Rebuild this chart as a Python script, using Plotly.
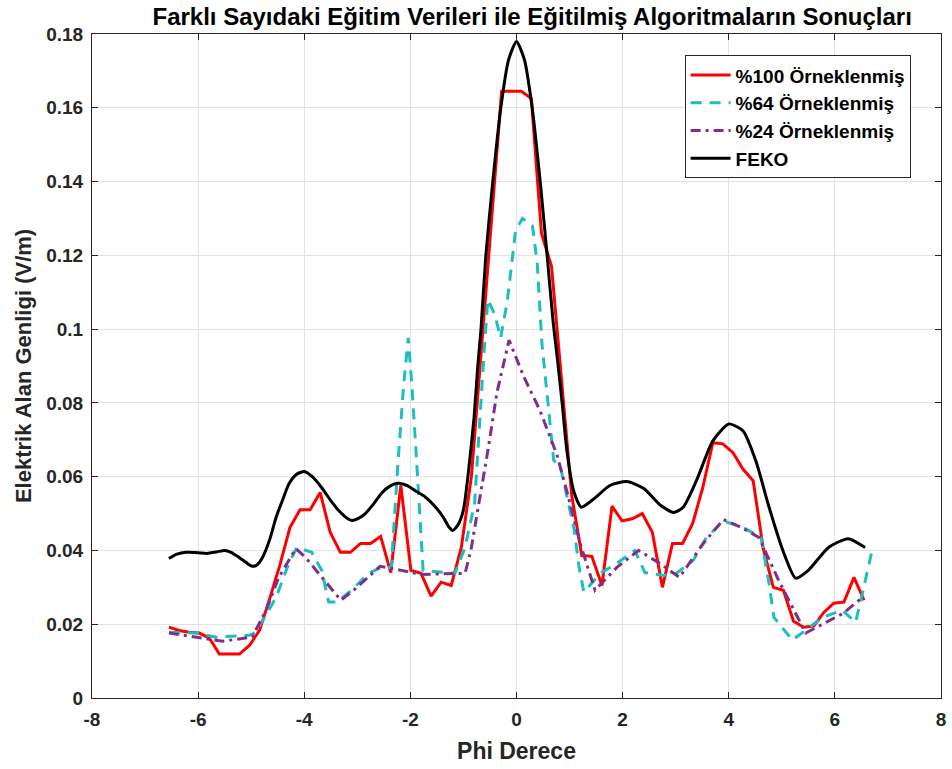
import plotly.graph_objects as go

# ---- data ----
X_100 = [-6.55, -6.36, -6.17, -5.98, -5.79, -5.60, -5.41, -5.22, -5.03, -4.84,
         -4.65, -4.46, -4.27, -4.08, -3.89, -3.70, -3.51, -3.32, -3.13, -2.94,
         -2.75, -2.56, -2.37, -2.18, -1.99, -1.80, -1.61, -1.42, -1.23, -1.04,
         -0.85, -0.66, -0.47, -0.28, -0.09, 0.09, 0.28, 0.47, 0.66, 0.85,
         1.04, 1.23, 1.42, 1.61, 1.80, 1.99, 2.18, 2.37, 2.56, 2.75,
         2.94, 3.13, 3.32, 3.51, 3.70, 3.89, 4.08, 4.27, 4.46, 4.65,
         4.84, 5.03, 5.22, 5.41, 5.60, 5.79, 5.98, 6.17, 6.36, 6.55]
Y_100 = [0.0192, 0.0183, 0.0178, 0.0176, 0.0163, 0.0119, 0.0119, 0.0119, 0.0143, 0.0184,
         0.0270, 0.0360, 0.0462, 0.0510, 0.0510, 0.0557, 0.0449, 0.0395, 0.0395, 0.0419,
         0.0419, 0.0438, 0.0340, 0.0576, 0.0346, 0.0338, 0.0276, 0.0314, 0.0305, 0.0408,
         0.0600, 0.0940, 0.1280, 0.1645, 0.1645, 0.1645, 0.1625, 0.1260, 0.1170, 0.0850,
         0.0550, 0.0386, 0.0384, 0.0305, 0.0520, 0.0480, 0.0486, 0.0500, 0.0449, 0.0300,
         0.0419, 0.0419, 0.0473, 0.0570, 0.0692, 0.0689, 0.0665, 0.0620, 0.0589, 0.0405,
         0.0300, 0.0292, 0.0208, 0.0192, 0.0195, 0.0232, 0.0257, 0.0260, 0.0327, 0.0265]

X_64 = [-6.55, -6.03, -5.66, -5.04, -4.91, -4.53, -4.29, -4.14, -3.86, -3.67,
        -3.54, -3.39, -3.11, -2.79, -2.55, -2.36, -2.23, -2.13, -2.04, -1.97,
        -1.89, -1.84, -1.76, -1.16, -0.97, -0.79, -0.74, -0.61, -0.54, -0.41,
        -0.30, -0.18, -0.08, -0.02, 0.11, 0.30, 0.39, 0.48, 0.60, 0.70,
        0.83, 1.08, 1.18, 1.27, 1.58, 1.89, 2.23, 2.42, 2.77, 3.01,
        3.33, 3.58, 3.90, 4.27, 4.61, 4.76, 4.85, 5.20, 5.45, 5.77,
        6.14, 6.39, 6.52, 6.70]
Y_64 = [0.0178, 0.0176, 0.0165, 0.0170, 0.0178, 0.0273, 0.0365, 0.0408, 0.0395, 0.0346,
        0.0260, 0.0260, 0.0292, 0.0338, 0.0354, 0.0354, 0.0645, 0.0843, 0.0976, 0.0843,
        0.0660, 0.0540, 0.0346, 0.0338, 0.0408, 0.0527, 0.0645, 0.0940, 0.1080, 0.1040,
        0.0976, 0.1070, 0.1190, 0.1265, 0.1300, 0.1280, 0.1180, 0.0960, 0.0790, 0.0645,
        0.0625, 0.0462, 0.0354, 0.0287, 0.0338, 0.0365, 0.0400, 0.0340, 0.0332, 0.0338,
        0.0373, 0.0435, 0.0480, 0.0462, 0.0435, 0.0310, 0.0219, 0.0157, 0.0184, 0.0219,
        0.0238, 0.0205, 0.0284, 0.0400]

X_24 = [-6.55, -6.03, -5.54, -4.98, -4.72, -4.48, -4.16, -3.97, -3.67, -3.31,
        -3.03, -2.79, -2.57, -2.17, -1.80, -0.97, -0.86, -0.54, -0.37, -0.14,
        0.14, 0.44, 0.76, 0.95, 1.20, 1.48, 1.89, 2.30, 2.70, 3.07,
        3.52, 3.90, 4.27, 4.57, 4.94, 5.45, 5.88, 6.16, 6.52]
Y_24 = [0.0176, 0.0165, 0.0154, 0.0165, 0.0238, 0.0327, 0.0405, 0.0380, 0.0327, 0.0265,
        0.0297, 0.0327, 0.0357, 0.0346, 0.0335, 0.0338, 0.0400, 0.0670, 0.0827, 0.0970,
        0.0870, 0.0780, 0.0660, 0.0560, 0.0419, 0.0292, 0.0354, 0.0400, 0.0365, 0.0327,
        0.0419, 0.0484, 0.0460, 0.0435, 0.0319, 0.0176, 0.0210, 0.0230, 0.0273]

X_FEKO = [-6.55, -6.40, -6.22, -6.00, -5.84, -5.65, -5.50, -5.38, -5.28, -5.12,
          -4.98, -4.88, -4.79, -4.65, -4.53, -4.40, -4.29, -4.15, -4.00, -3.85,
          -3.67, -3.50, -3.35, -3.20, -3.10, -2.98, -2.85, -2.70, -2.55, -2.40,
          -2.23, -2.05, -1.91, -1.72, -1.54, -1.38, -1.28, -1.20, -1.10, -1.00,
          -0.90, -0.80, -0.73, -0.67, -0.58, -0.45, -0.30, -0.15, 0.00, 0.15,
          0.30, 0.45, 0.58, 0.69, 0.77, 0.86, 0.95, 1.08, 1.22, 1.46,
          1.76, 2.08, 2.40, 2.70, 2.96, 3.14, 3.39, 3.70, 4.00, 4.27,
          4.51, 4.76, 5.02, 5.26, 5.50, 5.88, 6.25, 6.57]
Y_FEKO = [0.0378, 0.0390, 0.0395, 0.0394, 0.0392, 0.0396, 0.0400, 0.0395, 0.0386, 0.0370,
          0.0357, 0.0362, 0.0380, 0.0430, 0.0490, 0.0540, 0.0580, 0.0606, 0.0614, 0.0600,
          0.0570, 0.0535, 0.0508, 0.0488, 0.0481, 0.0487, 0.0500, 0.0525, 0.0554, 0.0573,
          0.0582, 0.0575, 0.0562, 0.0545, 0.0520, 0.0490, 0.0465, 0.0454, 0.0470, 0.0510,
          0.0620, 0.0760, 0.0900, 0.0998, 0.1195, 0.1395, 0.1595, 0.1730, 0.1780, 0.1730,
          0.1595, 0.1395, 0.1195, 0.1020, 0.0920, 0.0800, 0.0670, 0.0560, 0.0517, 0.0540,
          0.0576, 0.0587, 0.0568, 0.0524, 0.0503, 0.0517, 0.0589, 0.0697, 0.0743, 0.0724,
          0.0643, 0.0517, 0.0400, 0.0325, 0.0346, 0.0408, 0.0432, 0.0408]

SERIES_NAMES = ["%100 Örneklenmiş", "%64 Örneklenmiş", "%24 Örneklenmiş", "FEKO"]

X_TICKS = [-8, -6, -4, -2, 0, 2, 4, 6, 8]
X_TICK_LABELS = ["-8", "-6", "-4", "-2", "0", "2", "4", "6", "8"]
Y_TICKS = [0, 0.02, 0.04, 0.06, 0.08, 0.10, 0.12, 0.14, 0.16, 0.18]
Y_TICK_LABELS = ["0", "0.02", "0.04", "0.06", "0.08", "0.1", "0.12", "0.14", "0.16", "0.18"]

TITLE = "Farklı Sayıdaki Eğitim Verileri ile Eğitilmiş Algoritmaların Sonuçları"
X_TITLE = "Phi Derece"
Y_TITLE = "Elektrik Alan Genligi (V/m)"

FONT = "Liberation Sans, Arial, sans-serif"

fig = go.Figure()
fig.add_trace(go.Scatter(x=X_100, y=Y_100, mode="lines", name=SERIES_NAMES[0],
                         line=dict(color="#FF0000", width=3)))
fig.add_trace(go.Scatter(x=X_64, y=Y_64, mode="lines", name=SERIES_NAMES[1],
                         line=dict(color="#1BBFBF", width=3, dash="11px,8px")))
fig.add_trace(go.Scatter(x=X_24, y=Y_24, mode="lines", name=SERIES_NAMES[2],
                         line=dict(color="#7E2F8E", width=3, dash="10px,5px,3px,5px")))
fig.add_trace(go.Scatter(x=X_FEKO, y=Y_FEKO, mode="lines", name=SERIES_NAMES[3],
                         line=dict(color="#000000", width=3, shape="spline", smoothing=0.6)))

axis_common = dict(
    showgrid=True, gridcolor="#E3E3E3", gridwidth=1,
    showline=True, linecolor="#262626", linewidth=1, mirror="ticks",
    ticks="inside", ticklen=6, tickcolor="#262626",
    zeroline=False, ticklabelstandoff=4, ticklabeloverflow="allow",
    tickfont=dict(family=FONT, size=19, color="#262626", weight="bold"),
)

fig.update_layout(
    width=952, height=769,
    margin=dict(l=92, r=6, t=34, b=71),
    paper_bgcolor="white", plot_bgcolor="white",
    font=dict(family=FONT, color="#262626"),
    title=dict(text="<b>" + TITLE + "</b>", x=0.559, xanchor="center", xref="container",
               y=0.978, yanchor="middle",
               font=dict(family=FONT, size=24, color="#000000")),
    xaxis=dict(range=[-8, 8], tickvals=X_TICKS, ticktext=X_TICK_LABELS,
               title=dict(text="<b>" + X_TITLE + "</b>", standoff=14,
                          font=dict(family=FONT, size=23, color="#262626")),
               **axis_common),
    yaxis=dict(range=[0, 0.18], tickvals=Y_TICKS, ticktext=Y_TICK_LABELS,
               title=dict(text="<b>" + Y_TITLE + "</b>", standoff=8,
                          font=dict(family=FONT, size=22, color="#262626")),
               **axis_common),
    legend=dict(x=0.698, y=0.968, xanchor="left", yanchor="top",
                bgcolor="white", bordercolor="#262626", borderwidth=1,
                font=dict(family=FONT, size=19, color="#000000", weight="bold"),
                tracegroupgap=0, itemwidth=40),
    showlegend=True,
)

fig.write_html("out.html")
